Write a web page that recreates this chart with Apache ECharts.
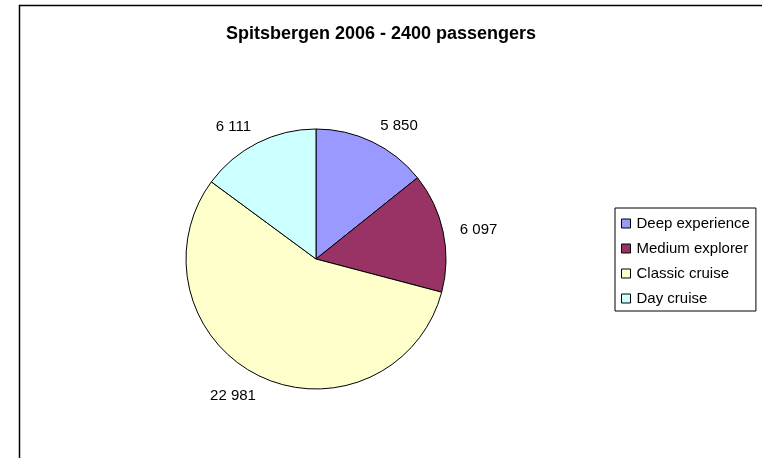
<!DOCTYPE html>
<html><head><meta charset="utf-8">
<script src="https://cdn.jsdelivr.net/npm/echarts@6/dist/echarts.min.js"></script>
<style>html,body{margin:0;padding:0;background:#fff}#c{width:762px;height:458px}</style>
</head><body><div id="c"></div>
<script>
const titleText = 'Spitsbergen 2006 - 2400 passengers';
const categories = ['Deep experience', 'Medium explorer', 'Classic cruise', 'Day cruise'];
const values = [5850, 6097, 22981, 6111];
const valueLabels = ['5 850', '6 097', '22 981', '6 111'];
const colors = ['#9999FF', '#993366', '#FFFFCC', '#CCFFFF'];

const FONT = "'Liberation Sans', Arial, sans-serif";
const CX = 316, CY = 259, R = 130;
const chart = echarts.init(document.getElementById('c'), null, {renderer: 'canvas'});
const pieData = categories.map((n, i) => ({
  name: n, value: values[i], itemStyle: {color: colors[i]},
  label: {formatter: valueLabels[i]}
}));
chart.setOption({
  animation: false,
  backgroundColor: '#fff',
  title: {text: titleText, left: 'center', top: 25, padding: 0,
    textStyle: {fontFamily: FONT, fontSize: 18, fontWeight: 'bold', color: '#000'}},
  graphic: [{type: 'rect', shape: {x: 19.5, y: 5.5, width: 800, height: 500},
    style: {fill: 'none', stroke: '#000', lineWidth: 1.5}, silent: true, z: 100}],
  legend: {
    orient: 'vertical', left: 615, top: 208, data: categories,
    borderColor: '#000', borderWidth: 1, padding: [7, 6, 4, 6],
    itemWidth: 9, itemHeight: 9, itemGap: 8, icon: 'rect',
    itemStyle: {borderColor: '#000', borderWidth: 1},
    textStyle: {fontFamily: FONT, fontSize: 15, color: '#000', lineHeight: 17, padding: [0, 0, 0, 1]},
    selectedMode: false
  },
  series: [
    {type: 'pie', center: [CX, CY], radius: R, startAngle: 90, clockwise: true,
     silent: true, data: pieData, avoidLabelOverlap: false,
     label: {show: true, position: 'outside', distanceToLabelLine: 0,
       fontFamily: FONT, fontSize: 15, color: '#000'},
     labelLine: {show: false, length: 16, length2: 0},
     labelLayout: function (p) {
       const lx = p.labelRect.x + p.labelRect.width / 2 - CX;
       const ly = p.labelRect.y + p.labelRect.height / 2 - CY;
       const d = Math.sqrt(lx * lx + ly * ly) || 1;
       return {dy: 4 * ly / d + 2, dx: ly > 0 ? 3 : 1};
     },
     itemStyle: {borderColor: '#000', borderWidth: 1}}
  ]
});
</script></body></html>
